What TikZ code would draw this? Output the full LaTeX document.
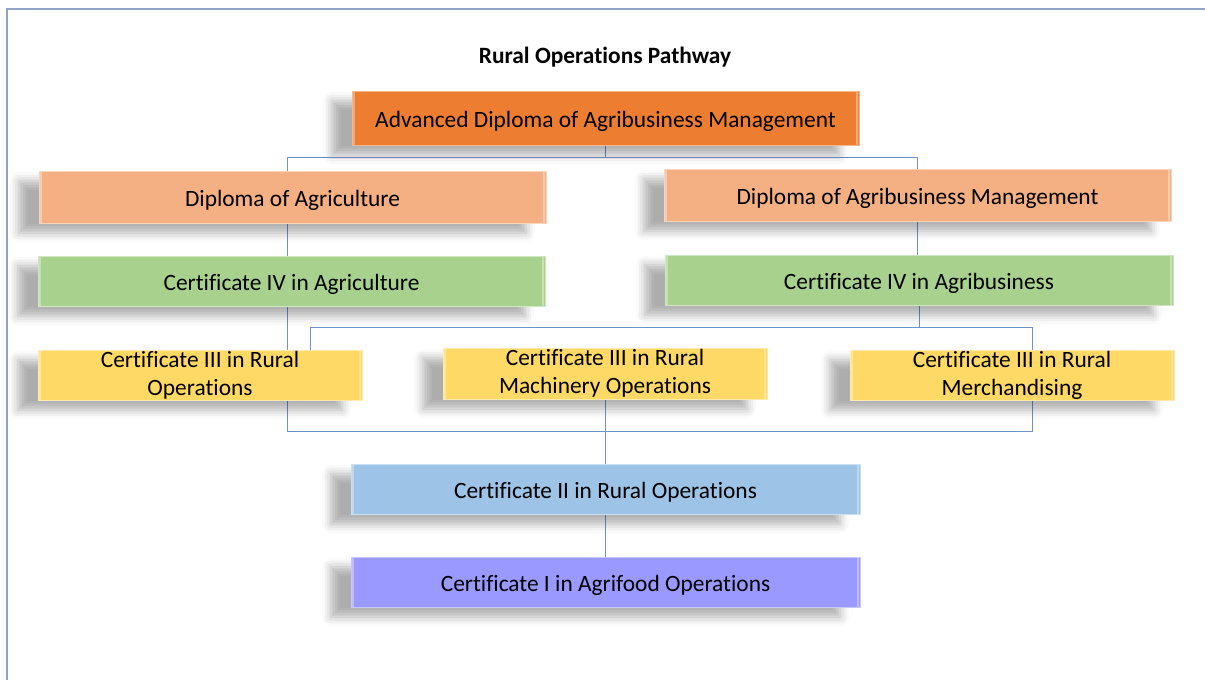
\documentclass[tikz,border=0pt]{standalone}
\usepackage{fontspec}
\setmainfont{Carlito}[Ligatures=NoCommon]
\usetikzlibrary{positioning,shadows.blur}
\definecolor{frameColor}{RGB}{143,163,201}
\definecolor{linkColor}{RGB}{112,146,202}
\definecolor{advColor}{RGB}{237,125,49}
\definecolor{diplomaColor}{RGB}{244,176,131}
\definecolor{certFourColor}{RGB}{169,209,142}
\definecolor{certThreeColor}{RGB}{255,217,102}
\definecolor{certTwoColor}{RGB}{157,195,230}
\definecolor{certOneColor}{RGB}{153,153,255}
\pgfdeclarelayer{background}
\pgfsetlayers{background,main}
\tikzstyle{chart} = [x = 1pt, y = -1pt]
\tikzstyle{qualStyle} = [rectangle, inner sep = 0pt, line width = 1pt, align = center,
  font = \fontsize{23.4}{28}\selectfont,
  execute at begin node = {\rule{0pt}{23pt}},
  blur shadow = {shadow xshift = -20pt, shadow yshift = -10pt, shadow blur radius = 9pt, shadow opacity = 32},
  path picture = {\draw [white, opacity = .35, line width = 2.5pt]
    ([xshift = 2pt]path picture bounding box.north west) -- ([xshift = 2pt]path picture bounding box.south west)
    ([xshift = -2pt]path picture bounding box.north east) -- ([xshift = -2pt]path picture bounding box.south east);}]
\tikzstyle{link} = [color = linkColor, line width = .9pt]
\tikzstyle{frameLine} = [color = frameColor, line width = 2pt]
\tikzstyle{titleText} = [font = \fontsize{23.4}{28}\selectfont\bfseries]
\newcommand{\qualification}[7]{\node [qualStyle, fill = #6, draw = #6!55!white, minimum width = #4pt, minimum height = #5pt] (#1) at (#2, #3) {#7};}

\begin{document}
\begin{tikzpicture}[chart]
  \useasboundingbox (0, 0) rectangle (1205, 680);
  \draw [frameLine] (1205, 9) -| (7, 680);
  \node [titleText] (title) at (605, 57) {Rural Operations Pathway};

  \qualification{adv}{605.5}{118}{507}{54}{advColor}{Advanced Diploma of Agribusiness Management}
  \qualification{dipAg}{292.5}{197}{507}{52}{diplomaColor}{Diploma of Agriculture}
  \qualification{dipAgb}{917.5}{195}{507}{52}{diplomaColor}{Diploma of Agribusiness Management}
  \qualification{certFourAg}{291.5}{281}{507}{50}{certFourColor}{Certificate IV in Agriculture}
  \qualification{certFourAgb}{919}{280}{508}{50}{certFourColor}{Certificate IV in Agribusiness}
  \qualification{certThreeOps}{200}{375}{324}{50}{certThreeColor}{Certificate III in Rural\\Operations}
  \qualification{certThreeMach}{605}{373.5}{324}{51}{certThreeColor}{Certificate III in Rural\\Machinery Operations}
  \qualification{certThreeMerch}{1012}{375}{324}{50}{certThreeColor}{Certificate III in Rural\\Merchandising}
  \qualification{certTwo}{605.5}{489}{509}{50}{certTwoColor}{Certificate II in Rural Operations}
  \qualification{certOne}{605.5}{582}{509}{50}{certOneColor}{Certificate I in Agrifood Operations}

  \begin{pgfonlayer}{background}
    \coordinate (midBus) at ([yshift = -22pt]certFourAgb.south);
    \coordinate (lowBus) at ([xshift = 20pt, yshift = -31pt]certThreeMerch.south);
    \draw [link] (adv.south) -- ++(0, 12) -| ([xshift = -5.5pt]dipAg.north);
    \draw [link] (adv.south) -- ++(0, 12) -| (dipAgb.north);
    \draw [link] ([xshift = -5.5pt]dipAg.south) -- ([xshift = -4.5pt]certFourAg.north);
    \draw [link] (dipAgb.south) -- (dipAgb.south |- certFourAgb.north);
    \draw [link] (certFourAgb.south) -- (midBus);
    \draw [link] ([xshift = 110pt]certThreeOps.north) |- (midBus) -| (lowBus);
    \draw [link] ([xshift = -4.5pt]certFourAg.south) |- (lowBus);
    \draw [link] (certThreeMach.south) -- (certThreeMach.south |- certTwo.north);
    \draw [link] (certTwo.south) -- (certTwo.south |- certOne.north);
  \end{pgfonlayer}
\end{tikzpicture}
\end{document}
